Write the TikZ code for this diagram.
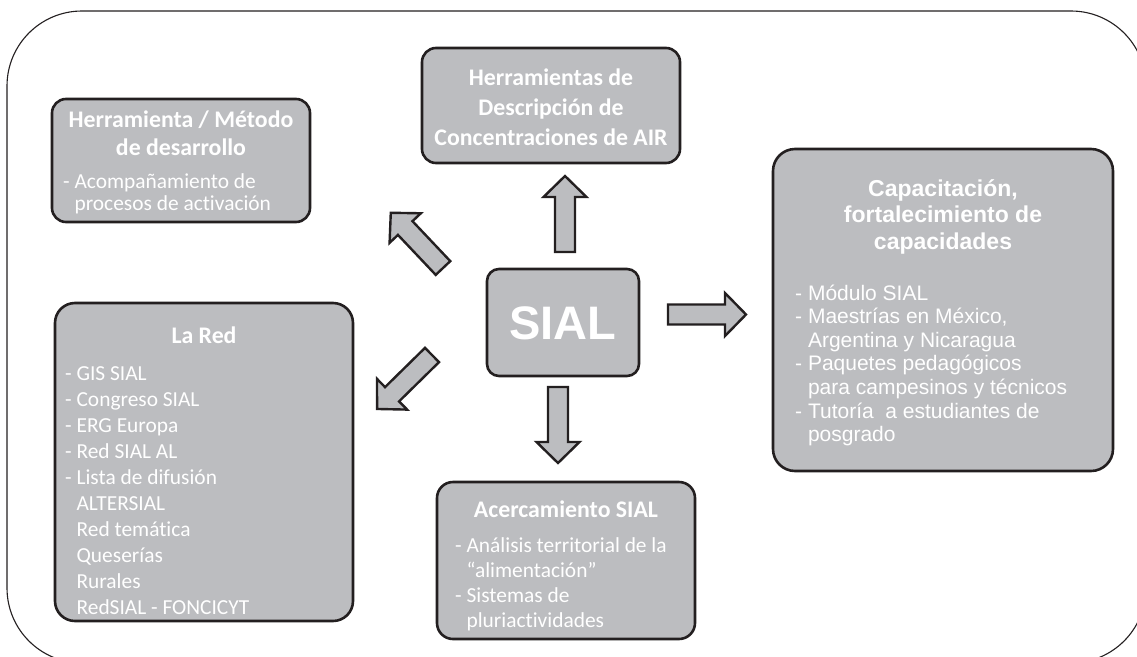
\documentclass[tikz,border=0pt]{standalone}
\usepackage{fontspec}
\newfontfamily\calfont[Ligatures=NoCommon]{Carlito}
\newfontfamily\arfont{Liberation Sans}
\definecolor{boxgray}{HTML}{BCBDC0}
\definecolor{ink}{HTML}{231F20}
\tikzset{
  panel/.style={draw=ink, line width=2.6pt, fill=boxgray, rounded corners=14pt, inner sep=0pt},
  txt/.style={text=white, inner sep=0pt},
  bigarrow/.style={draw=ink, line width=2.4pt, fill=boxgray, line join=miter},
  pics/blockarrow/.style={code={
    \path[bigarrow] (0,-10) -- (#1-21,-10) -- (#1-21,-21.5) -- (#1,0)
      -- (#1-21,21.5) -- (#1-21,10) -- (0,10) -- cycle;}}
}
\begin{document}
\begin{tikzpicture}[x=1pt,y=-1pt]
\useasboundingbox (0,0) rectangle (1137,656);
\clip (0,0) rectangle (1137,656);

% outer frame
\draw[draw=ink, line width=1.1pt, rounded corners=75pt] (7,11) rectangle (1146,663);

% panels
\node[panel, minimum width=258pt, minimum height=123pt] (metodo) at (181,160.5) {};
\node[panel, minimum width=258pt, minimum height=115pt] (descr) at (551,105.5) {};
\node[panel, minimum width=340pt, minimum height=322pt, rounded corners=22pt] (capac) at (943,310) {};
\node[panel, minimum width=298pt, minimum height=318pt, rounded corners=20pt] (red) at (204,462) {};
\node[panel, minimum width=152pt, minimum height=107pt, rounded corners=12pt] (sial) at (563,322.5) {};
\node[panel, minimum width=258pt, minimum height=157pt, rounded corners=16pt] (acerc) at (566,560.5) {};

% panel texts
\node[txt, anchor=base] (metodoT) at (181,127) {\parbox[t]{254pt}{\centering\calfont\bfseries\fontsize{23.8}{28}\selectfont Herramienta / Método\\de desarrollo}};
\node[txt, anchor=base west] (metodoB) at (63,188) {\parbox[t]{245pt}{\raggedright\calfont\fontsize{21.4}{22}\selectfont - Acompañamiento de\\\phantom{- }procesos de activación}};

\node[txt, anchor=base] (descrT) at (551,85) {\parbox[t]{256pt}{\centering\calfont\bfseries\fontsize{23.8}{30}\selectfont Herramientas de\\Descripción de\\Concentraciones de AIR}};

\node[txt, anchor=base] (capacT) at (943,196) {\parbox[t]{330pt}{\centering\arfont\bfseries\fontsize{23}{26.5}\selectfont Capacitación,\\fortalecimiento de\\capacidades}};
\node[txt, anchor=base west] (capacB) at (795,300) {\parbox[t]{310pt}{\raggedright\arfont\fontsize{21}{23.6}\selectfont - Módulo SIAL\\- Maestrías en México,\\\phantom{- }Argentina y Nicaragua\\- Paquetes pedagógicos\\\phantom{- }para campesinos y técnicos\\- Tutoría\ \ a estudiantes de\\\phantom{- }posgrado}};

\node[txt, anchor=base] (redT) at (204,343) {\parbox[t]{290pt}{\centering\calfont\bfseries\fontsize{23.8}{28}\selectfont La Red}};
\node[txt, anchor=base west] (redB) at (65,380) {\parbox[t]{285pt}{\raggedright\calfont\fontsize{21.4}{26}\selectfont - GIS SIAL\\- Congreso SIAL\\- ERG Europa\\- Red SIAL AL\\- Lista de difusión\\\phantom{- }ALTERSIAL\\\phantom{- }Red temática\\\phantom{- }Queserías\\\phantom{- }Rurales\\\phantom{- }RedSIAL - FONCICYT}};

\node[txt, anchor=base] (sialT) at (563,339) {\arfont\bfseries\fontsize{47}{50}\selectfont SIAL};

\node[txt, anchor=base] (acercT) at (566,517) {\parbox[t]{254pt}{\centering\calfont\bfseries\fontsize{23.8}{28}\selectfont Acercamiento SIAL}};
\node[txt, anchor=base west] (acercB) at (455,552) {\parbox[t]{235pt}{\raggedright\calfont\fontsize{21.4}{25.3}\selectfont - Análisis territorial de la\\\phantom{- }“alimentación”\\- Sistemas de\\\phantom{- }pluriactividades}};

% block arrows leaving the central panel
\pic[rotate=90] at (565,252) {blockarrow=76};
\pic[rotate=133.4] at (443,268) {blockarrow=76};
\pic at (668,314.5) {blockarrow=78};
\pic[rotate=224.5] at (432,355) {blockarrow=77};
\pic[rotate=270] at (558,387) {blockarrow=76};
\end{tikzpicture}
\end{document}
